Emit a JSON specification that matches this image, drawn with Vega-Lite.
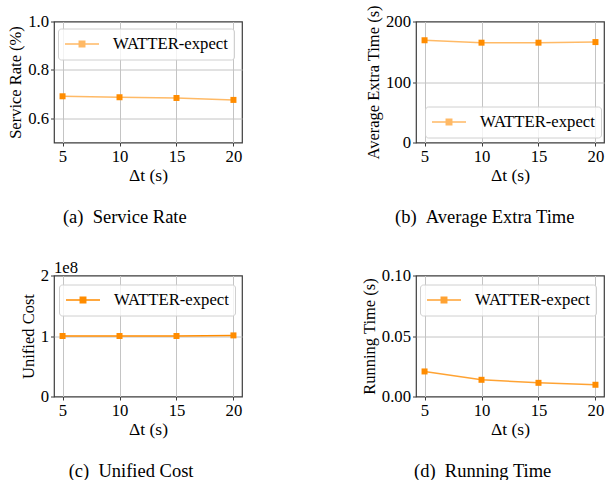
{
  "$schema": "https://vega.github.io/schema/vega-lite/v6.json",
  "padding": {"left": 7, "top": 3.5, "right": 0, "bottom": 0},
  "background": "white",
  "datasets": {
    "sr": [
      {"dt": 5, "value": 0.691, "series": "WATTER-expect"},
      {"dt": 10, "value": 0.687, "series": "WATTER-expect"},
      {"dt": 15, "value": 0.684, "series": "WATTER-expect"},
      {"dt": 20, "value": 0.676, "series": "WATTER-expect"}
    ],
    "aet": [
      {"dt": 5, "value": 169, "series": "WATTER-expect"},
      {"dt": 10, "value": 165, "series": "WATTER-expect"},
      {"dt": 15, "value": 165, "series": "WATTER-expect"},
      {"dt": 20, "value": 166, "series": "WATTER-expect"}
    ],
    "uc": [
      {"dt": 5, "value": 100000000, "series": "WATTER-expect"},
      {"dt": 10, "value": 100000000, "series": "WATTER-expect"},
      {"dt": 15, "value": 100000000, "series": "WATTER-expect"},
      {"dt": 20, "value": 101000000, "series": "WATTER-expect"}
    ],
    "rt": [
      {"dt": 5, "value": 0.0207, "series": "WATTER-expect"},
      {"dt": 10, "value": 0.0138, "series": "WATTER-expect"},
      {"dt": 15, "value": 0.0113, "series": "WATTER-expect"},
      {"dt": 20, "value": 0.0097, "series": "WATTER-expect"}
    ]
  },
  "columns": 2,
  "bounds": "flush",
  "spacing": {"row": 133, "column": 174},
  "resolve": {"scale": {"color": "independent"}, "legend": {"color": "independent"}},
  "concat": [
    {
      "width": 188, "height": 121,
      "title": {"text": "(a)\u00a0\u00a0Service Rate"},
      "data": {"name": "sr"},
      "encoding": {
        "x": {"field": "dt", "type": "quantitative", "scale": {"domain": [4.25, 20.75], "nice": false, "zero": false}, "axis": {"values": [5, 10, 15, 20], "title": "Δt (s)"}},
        "y": {"field": "value", "type": "quantitative", "scale": {"domain": [0.5, 1.0], "nice": false, "zero": false}, "axis": {"values": [0.6, 0.8, 1.0], "format": ".1f", "title": "Service Rate (%)", "gridOpacity": {"condition": {"test": "datum.value >= 1", "value": 0}, "value": 1}}},
        "color": {"field": "series", "type": "nominal", "scale": {"range": ["#ff8c00"]}, "legend": {"orient": "none", "legendX": 4, "legendY": 7}}
      },
      "layer": [
        {"mark": {"type": "line", "strokeWidth": 1.5, "opacity": 0.6}},
        {"mark": {"type": "point", "shape": "square", "filled": true, "size": 36, "opacity": 1}}
      ]
    },
    {
      "width": 188, "height": 121,
      "title": {"text": "(b)\u00a0\u00a0Average Extra Time"},
      "data": {"name": "aet"},
      "encoding": {
        "x": {"field": "dt", "type": "quantitative", "scale": {"domain": [4.25, 20.75], "nice": false, "zero": false}, "axis": {"values": [5, 10, 15, 20], "title": "Δt (s)"}},
        "y": {"field": "value", "type": "quantitative", "scale": {"domain": [0, 200], "nice": false}, "axis": {"values": [0, 100, 200], "title": "Average Extra Time (s)", "gridOpacity": {"condition": {"test": "datum.value <= 0 || datum.value >= 200", "value": 0}, "value": 1}}},
        "color": {"field": "series", "type": "nominal", "scale": {"range": ["#ff8c00"]}, "legend": {"orient": "none", "legendX": 9, "legendY": 85}}
      },
      "layer": [
        {"mark": {"type": "line", "strokeWidth": 1.5, "opacity": 0.6}},
        {"mark": {"type": "point", "shape": "square", "filled": true, "size": 36, "opacity": 1}}
      ]
    },
    {
      "width": 188, "height": 121,
      "title": {"text": "(c)\u00a0\u00a0Unified Cost"},
      "layer": [
        {
          "data": {"name": "uc"},
          "encoding": {
            "x": {"field": "dt", "type": "quantitative", "scale": {"domain": [4.25, 20.75], "nice": false, "zero": false}, "axis": {"values": [5, 10, 15, 20], "title": "Δt (s)"}},
            "y": {"field": "value", "type": "quantitative", "scale": {"domain": [0, 200000000], "nice": false}, "axis": {"values": [0, 100000000, 200000000], "labelExpr": "format(datum.value / 100000000, 'd')", "title": "Unified Cost", "gridOpacity": {"condition": {"test": "datum.value <= 0 || datum.value >= 200000000", "value": 0}, "value": 1}}},
            "color": {"field": "series", "type": "nominal", "scale": {"range": ["#ff8c00"]}, "legend": {"orient": "none", "legendX": 5, "legendY": 9}}
          },
          "layer": [
            {"mark": {"type": "line", "strokeWidth": 1.5, "opacity": 1}},
            {"mark": {"type": "point", "shape": "square", "filled": true, "size": 36, "opacity": 1}}
          ]
        },
        {
          "data": {"values": [{"label": "1e8"}]},
          "mark": {"type": "text", "align": "left", "baseline": "bottom", "fontSize": 16.7, "font": "Liberation Serif", "color": "#000", "dy": 1},
          "encoding": {
            "x": {"datum": 4.25},
            "y": {"datum": 200000000},
            "text": {"field": "label"}
          }
        }
      ]
    },
    {
      "width": 188, "height": 121,
      "title": {"text": "(d)\u00a0\u00a0Running Time"},
      "data": {"name": "rt"},
      "encoding": {
        "x": {"field": "dt", "type": "quantitative", "scale": {"domain": [4.25, 20.75], "nice": false, "zero": false}, "axis": {"values": [5, 10, 15, 20], "title": "Δt (s)"}},
        "y": {"field": "value", "type": "quantitative", "scale": {"domain": [0, 0.1], "nice": false}, "axis": {"values": [0, 0.05, 0.1], "format": ".2f", "title": "Running Time (s)", "gridOpacity": {"condition": {"test": "datum.value <= 0 || datum.value >= 0.1", "value": 0}, "value": 1}}},
        "color": {"field": "series", "type": "nominal", "scale": {"range": ["#ff8c00"]}, "legend": {"orient": "none", "legendX": 4, "legendY": 9}}
      },
      "layer": [
        {"mark": {"type": "line", "strokeWidth": 1.5, "opacity": 0.8}},
        {"mark": {"type": "point", "shape": "square", "filled": true, "size": 36, "opacity": 1}}
      ]
    }
  ],
  "config": {
    "font": "Liberation Serif",
    "view": {"stroke": "#3c3c3c", "strokeWidth": 1.2},
    "axis": {
      "labelFont": "Liberation Serif", "labelFontSize": 16.7, "labelColor": "#000",
      "titleFont": "Liberation Serif", "titleFontSize": 16.5, "titleFontWeight": "normal", "titleColor": "#000",
      "domain": false, "ticks": true, "tickColor": "#3c3c3c", "tickSize": 3.5, "labelPadding": 2,
      "grid": true, "gridColor": "#c4c4c4", "gridWidth": 1,
      "labelFlush": false, "labelOverlap": false, "labelBound": false
    },
    "axisX": {"titlePadding": 2, "titleFontSize": 17.5},
    "axisY": {"titlePadding": 4},
    "legend": {
      "title": null,
      "symbolType": "M-1,0H3M0.68,-0.32H1.32V0.32H0.68Z",
      "symbolSize": 289,
      "symbolStrokeWidth": 1.5,
      "symbolStrokeColor": "#ff8c00",
      "symbolFillColor": "#ff8c00",
      "labelOffset": 30,
      "labelFont": "Liberation Serif",
      "labelFontSize": 16.7,
      "labelColor": "#000",
      "padding": 6,
      "fillColor": "rgba(255,255,255,0.8)",
      "strokeColor": "#d0d0d0",
      "cornerRadius": 3
    },
    "title": {"orient": "bottom", "frame": "bounds", "anchor": "middle", "font": "Liberation Serif", "fontSize": 18.5, "fontWeight": "normal", "color": "#000", "offset": 24}
  }
}
